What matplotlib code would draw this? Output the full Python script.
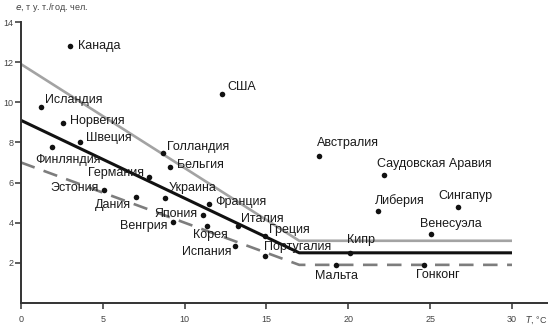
import matplotlib
matplotlib.use("Agg")
import matplotlib.pyplot as plt

plt.rcParams['font.family'] = ['Liberation Sans', 'DejaVu Sans']

# Countries: mean annual temperature (°C) and energy use per capita (t c.e./yr)
countries = ["Канада", "США", "Исландия", "Норвегия", "Швеция", "Финляндия",
             "Германия", "Эстония", "Дания", "Украина", "Голландия", "Бельгия",
             "Франция", "Япония", "Венгрия", "Корея", "Испания", "Италия",
             "Греция", "Португалия", "Мальта", "Кипр", "Гонконг", "Венесуэла",
             "Либерия", "Сингапур", "Саудовская Аравия", "Австралия"]
temps = [3.0, 12.3, 1.2, 2.55, 3.6, 1.9,
         7.85, 5.1, 7.0, 8.8, 8.65, 9.1,
         11.5, 11.1, 9.3, 11.35, 13.1, 13.25,
         14.9, 14.9, 19.25, 20.1, 24.6, 25.05,
         21.8, 26.7, 22.2, 18.2]
energy = [12.8, 10.4, 9.75, 8.95, 8.0, 7.75,
          6.3, 5.65, 5.3, 5.25, 7.45, 6.8,
          4.95, 4.4, 4.05, 3.85, 2.85, 3.85,
          3.35, 2.35, 1.9, 2.5, 1.9, 3.45,
          4.6, 4.8, 6.4, 7.3]

# Piecewise trend lines: upper bound, mean, lower bound
trend_t = [0, 17, 30]
upper_e = [11.9, 3.1, 3.1]
mean_e = [9.1, 2.5, 2.5]
lower_e = [7.0, 1.9, 1.9]

x_ticks = [0, 5, 10, 15, 20, 25, 30]
y_ticks = [2, 4, 6, 8, 10, 12, 14]

# label placement: (dx, dy) in pixels, horizontal alignment
label_pos = {
    "Канада": (8, 0, "left"), "США": (5, 7, "left"),
    "Исландия": (4, 7, "left"), "Норвегия": (7, 2, "left"),
    "Швеция": (6, 4, "left"), "Финляндия": (-17, -13, "left"),
    "Германия": (-5, 4, "right"), "Эстония": (-6, 2, "right"),
    "Дания": (-5, -8, "right"), "Украина": (4, 10, "left"),
    "Голландия": (4, 6, "left"), "Бельгия": (7, 2, "left"),
    "Франция": (6, 2, "left"), "Япония": (-5, 1, "right"),
    "Венгрия": (-6, -4, "right"), "Корея": (4, -9, "center"),
    "Испания": (-4, -6, "right"), "Италия": (3, 7, "left"),
    "Греция": (4, 6, "left"), "Португалия": (-1, 9, "left"),
    "Мальта": (0, -11, "center"), "Кипр": (-3, 13, "left"),
    "Гонконг": (-8, -10, "left"), "Венесуэла": (-11, 10, "left"),
    "Либерия": (-3, 10, "left"), "Сингапур": (-20, 11, "left"),
    "Саудовская Аравия": (-7, 11, "left"), "Австралия": (-2, 13, "left"),
}

fig = plt.figure(figsize=(5.48, 3.27), dpi=100)
ax = fig.add_axes([21 / 548, 24 / 327, 527 / 548, 281 / 327])

ax.plot(trend_t, upper_e, color="#a3a3a3", lw=1.9, solid_capstyle="butt", zorder=2)
ax.plot(trend_t, mean_e, color="#111111", lw=2.2, solid_capstyle="butt", zorder=2)
ax.plot(trend_t, lower_e, color="#7d7d7d", lw=1.9, dashes=(5.5, 3.6), zorder=2)

ax.scatter(temps, energy, s=16, color="#111111", zorder=3, linewidths=0)

for name, t, e in zip(countries, temps, energy):
    dx, dy, ha = label_pos[name]
    ax.annotate(name, (t, e), xytext=(dx, dy), textcoords="offset pixels",
                ha=ha, va="center", fontsize=9, color="#1a1a1a", zorder=4)

ax.set_xlim(0, 32.2)
ax.set_ylim(0, 14.0)
ax.set_xticks(x_ticks)
ax.set_yticks(y_ticks)
ax.tick_params(axis="both", direction="out", length=4.5, width=1.1,
               color="#333333", labelsize=6.5, labelcolor="#444444")
ax.tick_params(axis="y", pad=1)
ax.tick_params(axis="x", pad=4)

for side in ("top", "right"):
    ax.spines[side].set_visible(False)
for side in ("left", "bottom"):
    ax.spines[side].set_color("#333333")
    ax.spines[side].set_linewidth(1.4)

fig.text(15 / 548, 1 - 8 / 327, r"$e$, т у. т./год. чел.", fontsize=6.5,
         color="#444444", ha="left", va="center")
fig.text(525 / 548, 1 - 320 / 327, r"$T$, °C", fontsize=6.5,
         color="#444444", ha="left", va="center")

fig.savefig("out.png", dpi=100)
